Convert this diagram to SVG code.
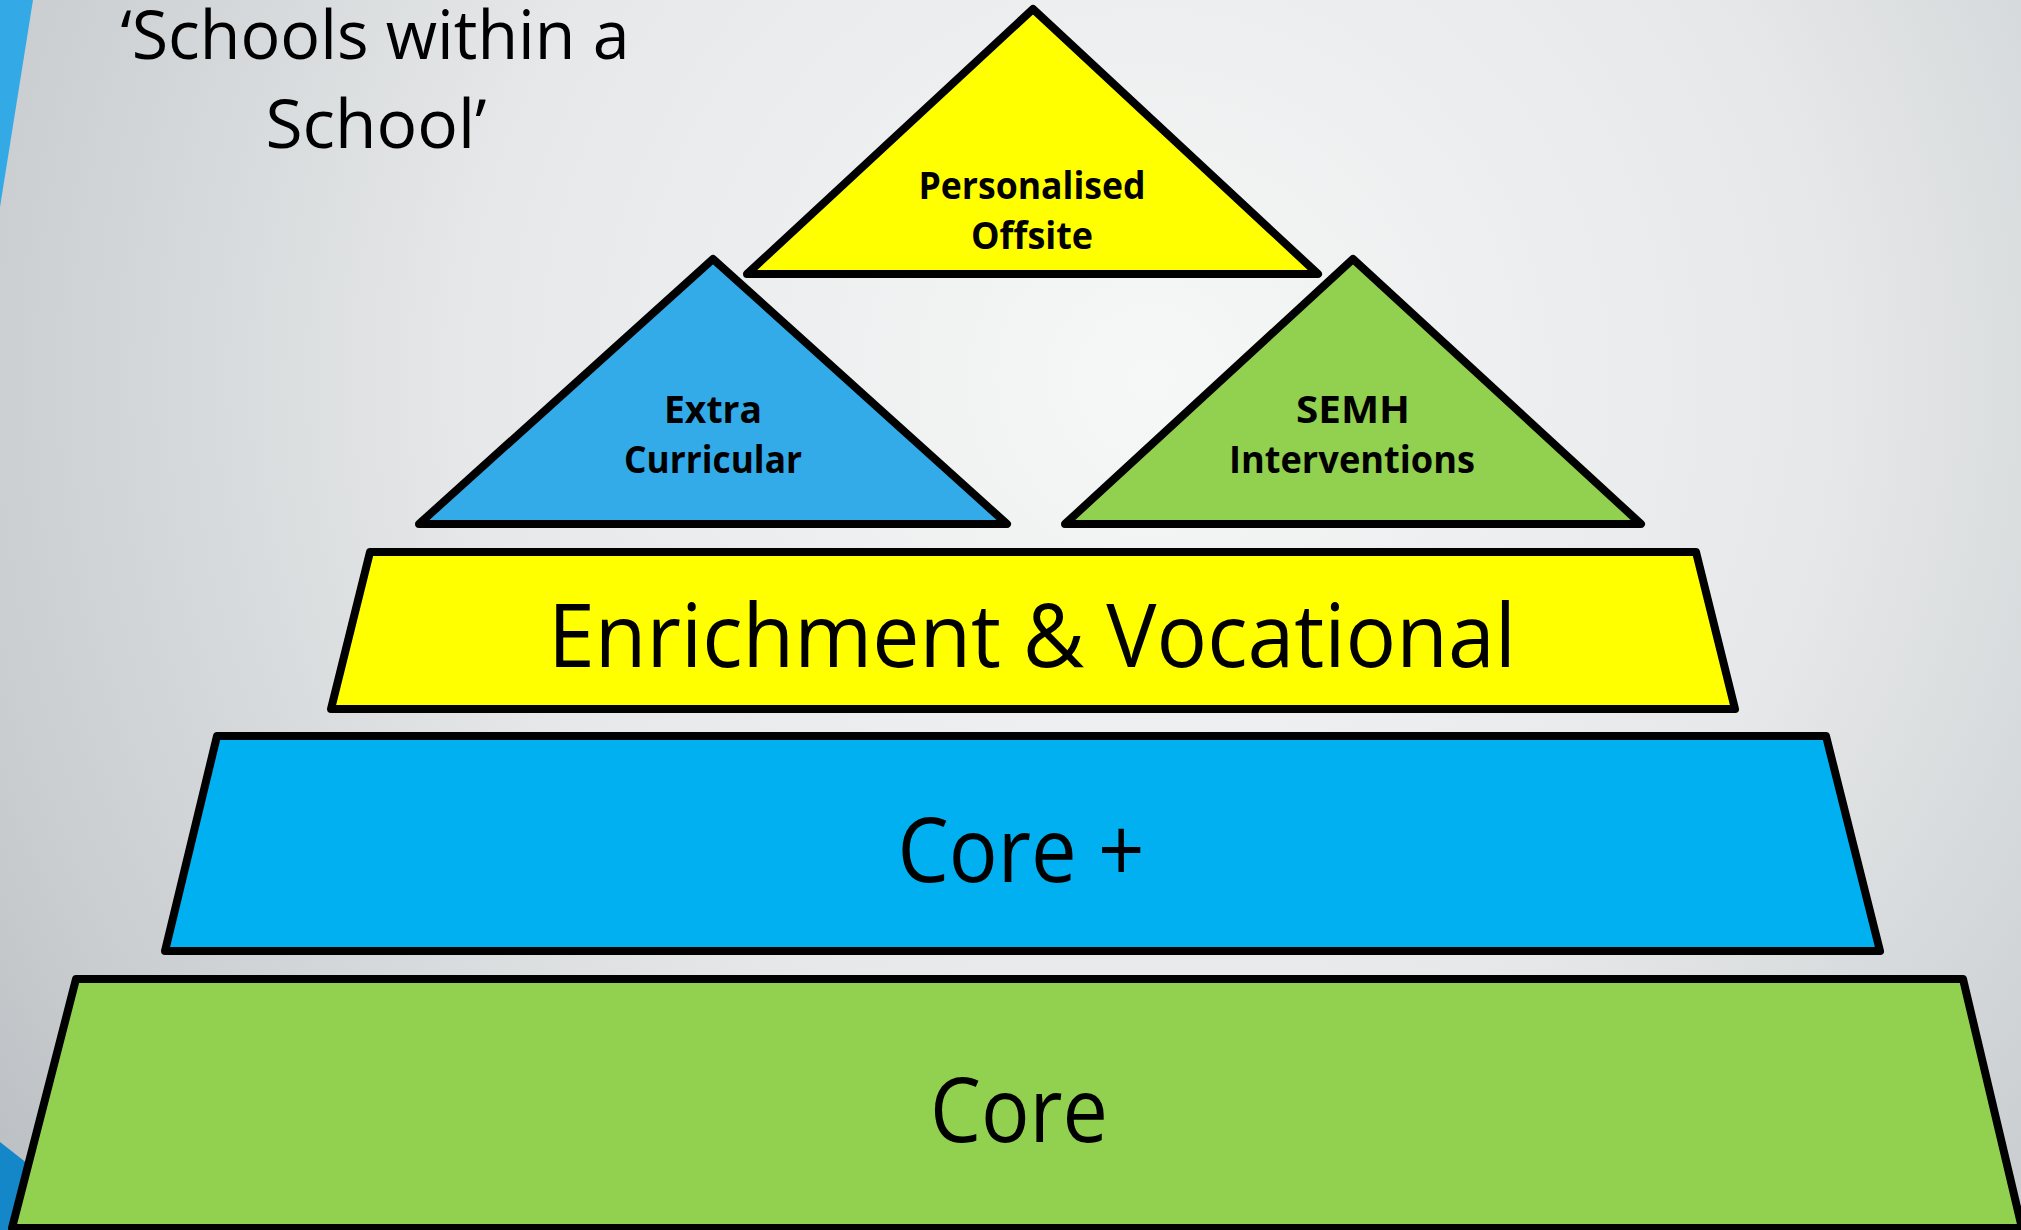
<svg xmlns="http://www.w3.org/2000/svg" width="2021" height="1230" viewBox="0 0 2021 1230">
<defs>
<radialGradient id="bg" cx="1150" cy="380" r="1500" gradientUnits="userSpaceOnUse">
<stop offset="0" stop-color="#f6f7f7"/>
<stop offset="0.45" stop-color="#e6e8e9"/>
<stop offset="0.8" stop-color="#c9cdd0"/>
<stop offset="1" stop-color="#b4b9bd"/>
</radialGradient>
<style>
.sh{stroke:#000;stroke-width:8;stroke-linejoin:round}
.yel{fill:#ffff00}
.blu{fill:#33abe9}
.cyan{fill:#00b0f0}
.grn{fill:#92d050}
.t{font-family:"Open Sans","Liberation Sans",sans-serif;fill:#000;text-anchor:middle}
.b{font-weight:bold;font-size:38px}
</style>
</defs>
<rect x="0" y="0" width="2021" height="1230" fill="url(#bg)"/>
<polygon points="0,0 33,0 0,207" fill="#33a9e6"/>
<polygon points="0,1142 70,1197 70,1230 0,1230" fill="#1387c8"/>
<text class="t" x="375" y="59" font-size="68" textLength="509" lengthAdjust="spacingAndGlyphs">‘Schools within a</text>
<text class="t" x="376" y="148" font-size="68" textLength="221" lengthAdjust="spacingAndGlyphs">School’</text>

<g id="core">
<polygon class="sh grn" points="76,979 1963,979 2022,1228 12,1228"/>
<text class="t" x="1019" y="1142" font-size="90" textLength="178" lengthAdjust="spacingAndGlyphs">Core</text>
</g>
<g id="coreplus">
<polygon class="sh cyan" points="217,736 1826,736 1880,951 165,951"/>
<text class="t" x="1021" y="882" font-size="90" textLength="247" lengthAdjust="spacingAndGlyphs">Core +</text>
</g>
<g id="enrichment">
<polygon class="sh yel" points="370,552 1696,552 1735,709 331,709"/>
<text class="t" x="1032" y="667" font-size="88" textLength="968" lengthAdjust="spacingAndGlyphs">Enrichment &amp; Vocational</text>
</g>
<g id="extra">
<polygon class="sh blu" points="713,259 1007,524 419,524"/>
<text class="t b" x="713" y="423" textLength="98" lengthAdjust="spacingAndGlyphs">Extra</text>
<text class="t b" x="713" y="473" textLength="178" lengthAdjust="spacingAndGlyphs">Curricular</text>
</g>
<g id="semh">
<polygon class="sh grn" points="1353,259 1641,524 1065,524"/>
<text class="t b" x="1353" y="423" textLength="114" lengthAdjust="spacingAndGlyphs">SEMH</text>
<text class="t b" x="1352" y="473" textLength="246" lengthAdjust="spacingAndGlyphs">Interventions</text>
</g>
<g id="offsite">
<polygon class="sh yel" points="1033,9 1318,274 747,274"/>
<text class="t b" x="1032" y="199" textLength="227" lengthAdjust="spacingAndGlyphs">Personalised</text>
<text class="t b" x="1032" y="249" textLength="122" lengthAdjust="spacingAndGlyphs">Offsite</text>
</g>
<g id="connectors"/>
</svg>
